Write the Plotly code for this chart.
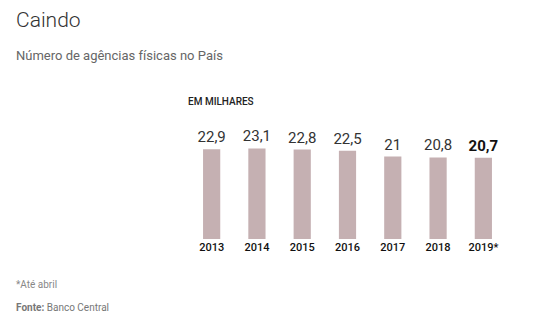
import plotly.graph_objects as go

years = ["2013", "2014", "2015", "2016", "2017", "2018", "2019*"]
values = [22.9, 23.1, 22.8, 22.5, 21.0, 20.8, 20.7]
labels = ["22,9", "23,1", "22,8", "22,5", "21", "20,8", "<b>20,7</b>"]
label_colors = ["#333333"] * 6 + ["#111111"]

fig = go.Figure()
fig.add_trace(go.Bar(
    x=years, y=values,
    marker=dict(color="#c5b0b2", line=dict(width=0)),
    text=labels, textposition="outside", cliponaxis=False,
    constraintext="none",
    textfont=dict(family="Roboto", size=15, color=label_colors),
    hoverinfo="skip",
))

fig.update_layout(
    width=534, height=336,
    margin=dict(l=189, r=28, t=137, b=97),
    paper_bgcolor="white", plot_bgcolor="white",
    bargap=0.62, showlegend=False,
    xaxis=dict(showgrid=False, showline=False, zeroline=False, ticks="",
               tickfont=dict(family="Roboto", size=11, color="#111111", weight=500)),
    yaxis=dict(range=[0, 26], visible=False),
    annotations=[
        dict(text="Caindo", xref="paper", yref="paper", x=-0.553, y=2.15,
             xanchor="left", yanchor="middle", showarrow=False,
             font=dict(family="Roboto", size=21, color="#333333", weight=300)),
        dict(text="Número de agências físicas no País", xref="paper", yref="paper",
             x=-0.553, y=1.80, xanchor="left", yanchor="middle", showarrow=False,
             font=dict(family="Roboto", size=13, color="#666666")),
        dict(text="EM MILHARES", xref="paper", yref="paper", x=-0.01, y=1.35,
             xanchor="left", yanchor="middle", showarrow=False,
             font=dict(family="Roboto", size=10, color="#222222", weight=500)),
        dict(text="*Até abril", xref="paper", yref="paper", x=-0.553, y=-0.45,
             xanchor="left", yanchor="middle", showarrow=False,
             font=dict(family="Roboto", size=10, color="#888888")),
        dict(text="<b>Fonte:</b> Banco Central", xref="paper", yref="paper",
             x=-0.553, y=-0.67, xanchor="left", yanchor="middle", showarrow=False,
             font=dict(family="Roboto", size=10, color="#777777")),
    ],
)

fig.write_html("out.html")
